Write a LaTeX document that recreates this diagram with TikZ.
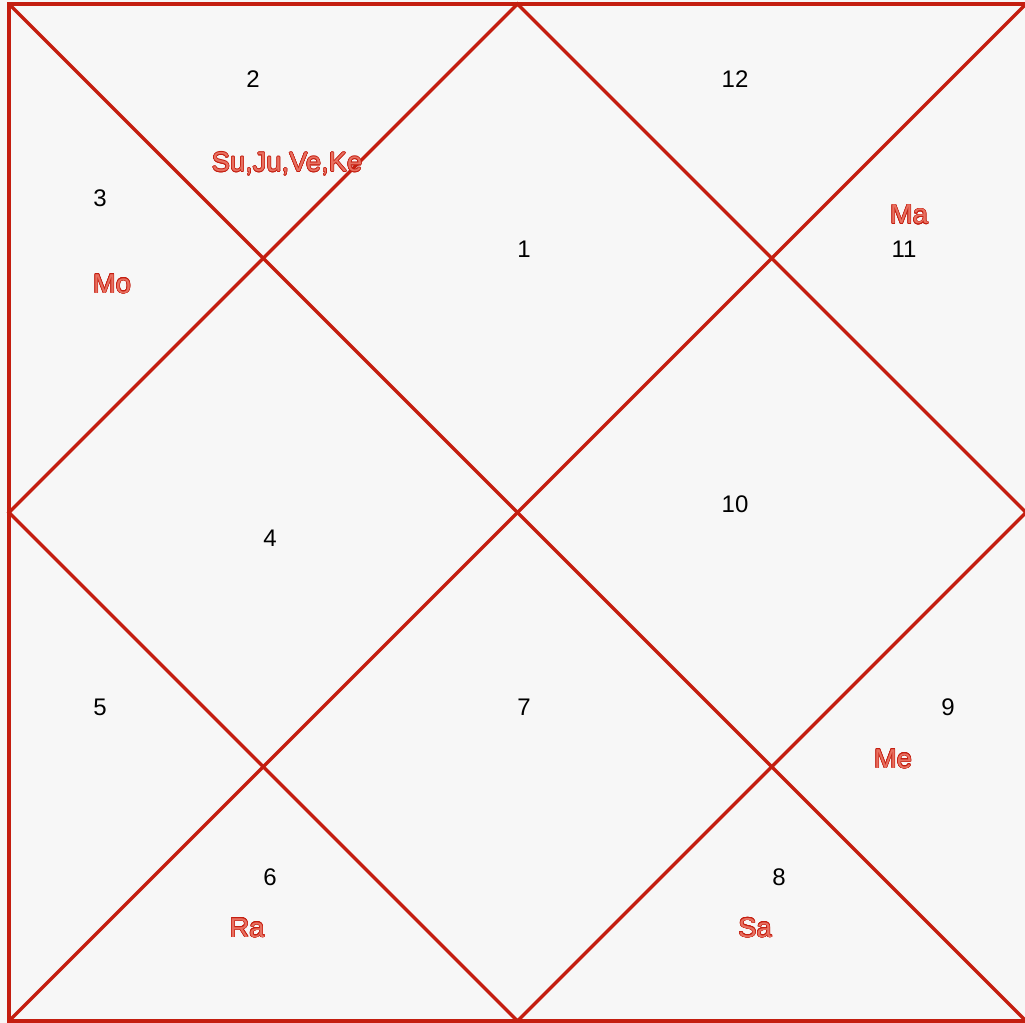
\documentclass[tikz,border=0pt]{standalone}
\usepackage{fontspec}
\setmainfont{Liberation Sans}
\usepackage[copies]{contour}
\definecolor{chartred}{RGB}{196,30,16}
\definecolor{planetfill}{RGB}{232,112,96}
\definecolor{bgc}{RGB}{247,247,247}
\contourlength{0.4pt}
\newcommand{\planettext}[1]{\contour{chartred}{\textcolor{planetfill}{#1}}}
\begin{document}
\begin{tikzpicture}[x=0.75pt,y=-0.75pt,
  house/.style={font=\fontsize{18}{21}\selectfont,text=black,inner sep=0pt},
  planet/.style={font=\fontsize{20.5}{24}\selectfont,inner sep=0pt},
  edge/.style={draw=chartred,line width=2.4pt}]
\useasboundingbox (0,0) rectangle (1025,1023);
\clip (0,0) rectangle (1025,1023);
\fill[bgc] (0,0) rectangle (1025,1023);
\coordinate (TL) at (9,4);
\coordinate (TR) at (1026,4);
\coordinate (BR) at (1026,1021);
\coordinate (BL) at (9,1021);
\coordinate (T) at (517.5,4);
\coordinate (R) at (1026,512.5);
\coordinate (B) at (517.5,1021);
\coordinate (L) at (9,512.5);
\draw[edge] (TR) -- (TL) -- (BL) -- (BR);
\draw[edge] (TL) -- (BR);
\draw[edge] (TR) -- (BL);
\draw[edge] (T) -- (R) -- (B) -- (L) -- cycle;
% house numbers
\node[house] (h1) at (524,249) {1};
\node[house] (h2) at (253,79) {2};
\node[house] (h3) at (100,198) {3};
\node[house] (h4) at (270,538) {4};
\node[house] (h5) at (100,707) {5};
\node[house] (h6) at (270,877) {6};
\node[house] (h7) at (524,707) {7};
\node[house] (h8) at (779,877) {8};
\node[house] (h9) at (948,707) {9};
\node[house] (h10) at (735,504) {10};
\node[house] (h11) at (904,249) {11};
\node[house] (h12) at (735,79) {12};
% planets
\node[planet] (p2) at (287,164) {\planettext{Su,Ju,Ve,Ke}};
\node[planet] (p3) at (112,284) {\planettext{Mo}};
\node[planet] (p11) at (909,215) {\planettext{Ma}};
\node[planet] (p9) at (893,759) {\planettext{Me}};
\node[planet] (p6) at (247,928) {\planettext{Ra}};
\node[planet] (p8) at (755,928) {\planettext{Sa}};
\end{tikzpicture}
\end{document}
